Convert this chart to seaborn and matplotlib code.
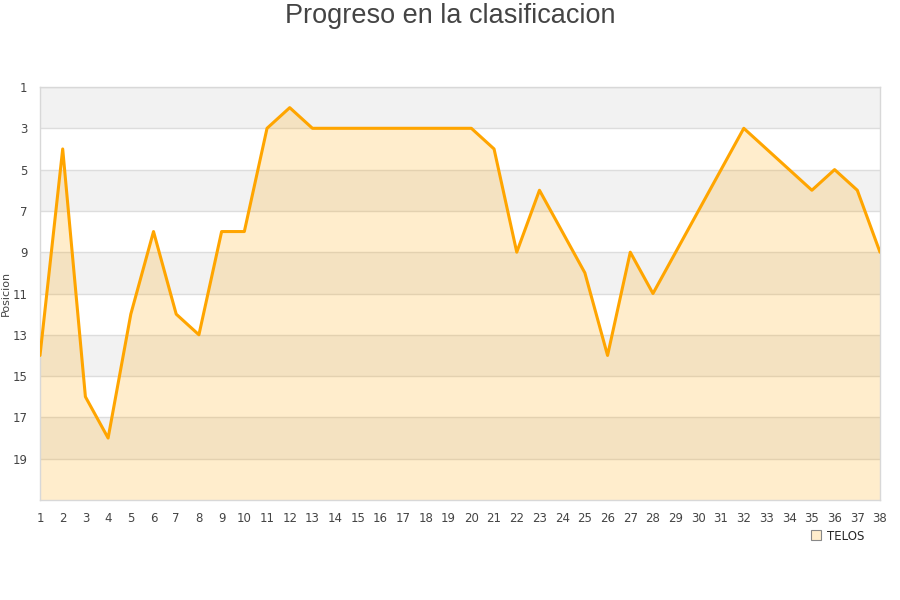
import matplotlib
matplotlib.use("Agg")
import matplotlib.pyplot as plt
import seaborn as sns
import pandas as pd
from matplotlib.lines import Line2D

jornadas = list(range(1, 39))
posiciones = [14, 4, 16, 18, 12, 8, 12, 13, 8, 8,
              3, 2, 3, 3, 3, 3, 3, 3, 3, 3,
              4, 9, 6, 8, 10, 14, 9, 11, 9, 7,
              5, 3, 4, 5, 6, 5, 6, 9]
equipo = "TELOS"
titulo = "Progreso en la clasificacion"
y_ticks = [1, 3, 5, 7, 9, 11, 13, 15, 17, 19]

sns.set_theme(style="white")
plt.rcParams['font.family'] = ['DejaVu Sans']

df = pd.DataFrame({"Jornada": jornadas, "Posicion": posiciones})

fig = plt.figure(figsize=(9, 6), dpi=100)
ax = fig.add_axes([40/900, 1 - 500/600, 840/900, 413/600])

# alternating bands
for i, lo in enumerate(range(1, 21, 2)):
    if i % 2 == 0:
        ax.axhspan(lo, lo + 2, color="#f2f2f2", zorder=0, lw=0)

ax.fill_between(df["Jornada"], df["Posicion"], 21, color="#FFA500", alpha=0.2, lw=0, zorder=2)
sns.lineplot(data=df, x="Jornada", y="Posicion", ax=ax, color="#FFA500", lw=2.2, zorder=3)

ax.set_xlim(1, 38)
ax.set_ylim(21, 1)
ax.set_yticks(y_ticks)
ax.set_xticks(jornadas)
ax.yaxis.grid(True, color="#dddddd", lw=1, zorder=1)
ax.set_axisbelow(True)
for s in ax.spines.values():
    s.set_color("#d8d8d8")
    s.set_linewidth(1)
ax.tick_params(axis="both", labelsize=8.5, colors="#444444", length=0, pad=9)
ax.set_xlabel("")
ax.set_ylabel("Posicion", fontsize=8, color="#444444")
ax.yaxis.set_label_coords(-29/840, 0.5)

fig.text(0.5, 1 - 16/600, titulo, ha="center", va="center", fontsize=19.5,
         color="#444444", family="Liberation Sans")

handle = Line2D([], [], marker="s", linestyle="none", markersize=6.5,
                markerfacecolor="#FFEDCC", markeredgecolor="#888888", markeredgewidth=0.8)
fig.legend([handle], [equipo], loc="center", bbox_to_anchor=(837/900, 1 - 536/600),
           frameon=False, fontsize=8.5, handletextpad=0.4, handlelength=1)

fig.savefig("out.png", dpi=100)
